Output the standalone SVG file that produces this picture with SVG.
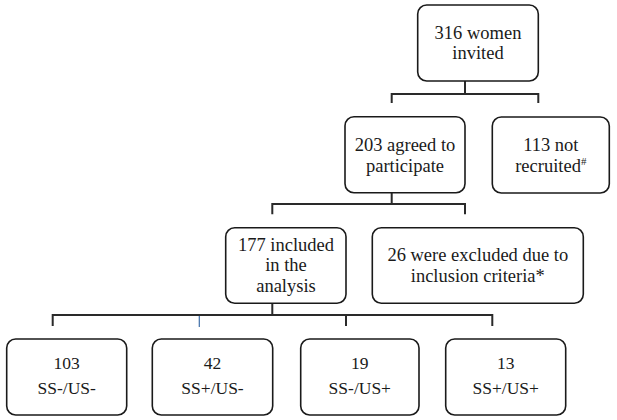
<svg xmlns="http://www.w3.org/2000/svg" width="617" height="420" viewBox="0 0 617 420">
<style>
.box{fill:#fff;stroke:#1a1a1a;stroke-width:1.6}
.t{font-family:"Liberation Serif","Times New Roman",serif;font-size:18.5px;fill:#1a1a1a;text-anchor:middle}
.s{font-size:17.5px}
.ln{fill:none;stroke:#2a2a2a;stroke-width:2}
.faint{fill:none;stroke:#c8c8c8;stroke-width:1;stroke-dasharray:1 1}
.sup{font-size:11px}
</style>
<rect width="617" height="420" fill="#fff"/>
<g id="connectors">
<path class="ln" d="M465,81 V94 M391.7,103 V94 H538.3 V103"/>
<path class="ln" d="M391.7,192.7 V204 M272.3,214.3 V204 H465 V214.3"/>
<path class="ln" d="M272.3,303.3 V315 M52.7,326 V315 H492.3 V326 M346,315 V326"/>
<path d="M199.3,316 V327" fill="none" stroke="#3f6fa8" stroke-width="1.2"/>
<path class="faint" d="M465,66 V81 M391.7,178 V192 M272.3,294 V303"/>
</g>
<g id="n1">
<rect class="box" x="417.7" y="5" width="120.6" height="76" rx="9"/>
<text class="t" x="478" y="38.6">316 women</text>
<text class="t" x="478" y="59.1">invited</text>
</g>
<g id="n2">
<rect class="box" x="345" y="116.7" width="120" height="76" rx="9"/>
<text class="t" x="405" y="151.4">203 agreed to</text>
<text class="t" x="405" y="171.9">participate</text>
</g>
<g id="n3">
<rect class="box" x="492.3" y="117" width="117" height="76" rx="9"/>
<text class="t" x="550.8" y="151.4">113 not</text>
<text class="t" x="550.8" y="171.9">recruited<tspan class="sup" dy="-7">#</tspan></text>
</g>
<g id="n4">
<rect class="box" x="225.7" y="227.7" width="120.3" height="75.6" rx="9"/>
<text class="t" x="286" y="250.8">177 included</text>
<text class="t" x="286" y="271.3">in the</text>
<text class="t" x="286" y="291.8">analysis</text>
</g>
<g id="n5">
<rect class="box" x="372.3" y="227.7" width="211" height="75.6" rx="9"/>
<text class="t" x="477.8" y="261.3">26 were excluded due to</text>
<text class="t" x="477.8" y="281.8">inclusion criteria*</text>
</g>
<g id="n6">
<rect class="box" x="6.7" y="339" width="120" height="76" rx="9"/>
<text class="t s" x="66.7" y="369">103</text>
<text class="t s" x="66.7" y="394">SS-/US-</text>
</g>
<g id="n7">
<rect class="box" x="152.3" y="339" width="120.4" height="76" rx="9"/>
<text class="t s" x="212.5" y="369">42</text>
<text class="t s" x="212.5" y="394">SS+/US-</text>
</g>
<g id="n8">
<rect class="box" x="300.7" y="339" width="118.3" height="76" rx="9"/>
<text class="t s" x="359.8" y="369">19</text>
<text class="t s" x="359.8" y="394">SS-/US+</text>
</g>
<g id="n9">
<rect class="box" x="445.7" y="339" width="120" height="76" rx="9"/>
<text class="t s" x="505.7" y="369">13</text>
<text class="t s" x="505.7" y="394">SS+/US+</text>
</g>
</svg>
